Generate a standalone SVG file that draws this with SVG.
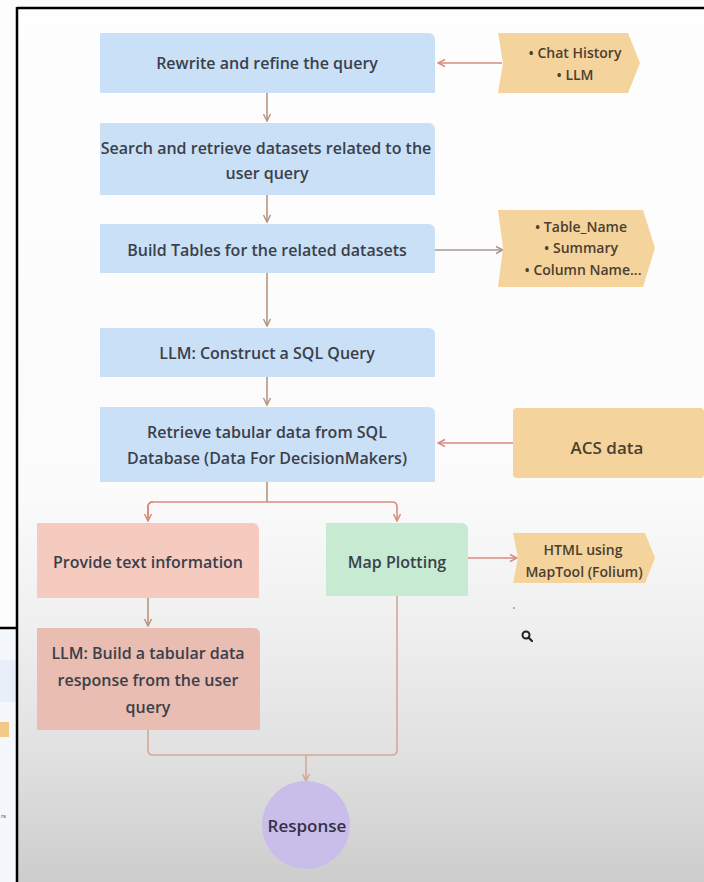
<svg xmlns="http://www.w3.org/2000/svg" width="704" height="882" viewBox="0 0 704 882">
  <defs>
    <linearGradient id="bg" x1="0" y1="0" x2="0" y2="1">
      <stop offset="0" stop-color="#fefefe"/>
      <stop offset="0.55" stop-color="#fbfbfb"/>
      <stop offset="0.7" stop-color="#f0f0f0"/>
      <stop offset="0.85" stop-color="#e1e1e1"/>
      <stop offset="1" stop-color="#cdcdcd"/>
    </linearGradient>
    <marker id="arrow" viewBox="0 0 10 10" refX="9" refY="5" markerWidth="10" markerHeight="10" markerUnits="userSpaceOnUse" orient="auto">
      <polyline points="2,1.5 9,5 2,8.5" fill="none" stroke="context-stroke" stroke-width="1.5"/>
    </marker>
    <style>
      .t { font-family: "Open Sans", "Liberation Sans", sans-serif; font-size: 16px; font-weight: 600; fill: #3b3f4a; text-anchor: middle; }
      .s { font-family: "Open Sans", "Liberation Sans", sans-serif; font-size: 14px; font-weight: 600; fill: #4a3f30; text-anchor: middle; }
      .blue { fill: #c9e0f7; }
      .orange { fill: #f4d39c; }
      .pink { fill: #f5cbc0; }
      .rose { fill: #e9bdb1; }
      .green { fill: #c6ead2; }
      .purple { fill: #c9bde9; }
      .c { fill: none; stroke-width: 1.6; stroke-linejoin: round; }
      .brown { stroke: #b8957f; }
      .red { stroke: #d98a7e; }
      .grey { stroke: #a89690; }
      .tan { stroke: #d3a898; }
      .frame { stroke: #000; stroke-width: 2.5; fill: none; }
    </style>
  </defs>

  <!-- canvas -->
  <rect x="0" y="0" width="704" height="882" fill="#fdfdfd"/>
  <rect x="17" y="8" width="687" height="874" fill="url(#bg)"/>

  <!-- neighbouring panel on the left -->
  <rect x="0" y="629" width="17" height="253" fill="#f4f7fb"/>
  <rect x="0" y="660" width="17" height="42" fill="#e8eff8"/>
  <rect x="0" y="722" width="9" height="15" fill="#f2c987"/>
  <text x="1" y="818" font-family="Liberation Sans, sans-serif" font-size="6" fill="#555">rs</text>
  <line class="frame" x1="0" y1="628" x2="17" y2="628"/>
  <line class="frame" x1="17" y1="8" x2="704" y2="8"/>
  <line class="frame" x1="17" y1="7" x2="17" y2="882"/>

  <!-- connectors -->
  <g id="connectors">
    <line class="c red" x1="502" y1="63" x2="438" y2="63" marker-end="url(#arrow)"/>
    <line class="c brown" x1="267" y1="93" x2="267" y2="121" marker-end="url(#arrow)"/>
    <line class="c brown" x1="267" y1="195" x2="267" y2="222" marker-end="url(#arrow)"/>
    <line class="c grey" x1="435" y1="250" x2="503" y2="250" marker-end="url(#arrow)"/>
    <line class="c brown" x1="267" y1="273" x2="267" y2="326" marker-end="url(#arrow)"/>
    <line class="c brown" x1="267" y1="377" x2="267" y2="405" marker-end="url(#arrow)"/>
    <line class="c red" x1="513" y1="443" x2="438" y2="443" marker-end="url(#arrow)"/>
    <line class="c brown" x1="267" y1="482" x2="267" y2="502"/>
    <path class="c red" d="M148 521 V507 Q148 502 153 502 H392 Q397 502 397 507 V521" marker-end="url(#arrow)"/>
    <path class="c red" d="M153 502 Q148 502 148 507 V521" marker-end="url(#arrow)"/>
    <line class="c red" x1="468" y1="558" x2="517" y2="558" marker-end="url(#arrow)"/>
    <line class="c brown" x1="148" y1="598" x2="148" y2="626" marker-end="url(#arrow)"/>
    <path class="c tan" d="M148 730 V750 Q148 755 153 755 H392 Q397 755 397 750 V596"/>
    <line class="c tan" x1="306" y1="755" x2="306" y2="781" marker-end="url(#arrow)"/>
  </g>

  <!-- nodes -->
  <g id="rewrite">
    <path class="blue" d="M100 33 H428 Q435 33 435 40 V93 H100 Z"/>
    <text class="t" x="267" y="69">Rewrite and refine the query</text>
  </g>

  <g id="chat-inputs">
    <path class="orange" d="M498 33 H628 L640 63 L628 93 H498 L503 63 Z"/>
    <text class="s" x="575" y="58">• Chat History</text>
    <text class="s" x="575" y="80">• LLM</text>
  </g>

  <g id="search">
    <path class="blue" d="M100 123 H428 Q435 123 435 130 V195 H100 Z"/>
    <text class="t" x="266" y="154">Search and retrieve datasets related to the</text>
    <text class="t" x="267" y="179">user query</text>
  </g>

  <g id="build-tables">
    <path class="blue" d="M100 224 H428 Q435 224 435 231 V273 H100 Z"/>
    <text class="t" x="267" y="256">Build Tables for the related datasets</text>
  </g>

  <g id="table-info">
    <path class="orange" d="M498 210 H643 L655 248 L643 287 H498 L503 248 Z"/>
    <text class="s" x="581" y="232">• Table_Name</text>
    <text class="s" x="581" y="253">• Summary</text>
    <text class="s" x="583" y="275">• Column Name...</text>
  </g>

  <g id="construct-sql">
    <path class="blue" d="M100 328 H428 Q435 328 435 335 V377 H100 Z"/>
    <text class="t" x="267" y="359">LLM: Construct a SQL Query</text>
  </g>

  <g id="retrieve">
    <path class="blue" d="M100 407 H428 Q435 407 435 414 V482 H100 Z"/>
    <text class="t" x="267" y="438">Retrieve tabular data from SQL</text>
    <text class="t" x="267" y="464">Database (Data For DecisionMakers)</text>
  </g>

  <g id="acs-data">
    <rect class="orange" x="513" y="408" width="191" height="70" rx="4"/>
    <text class="t" x="607" y="454" style="fill:#4a3f30; font-size:17px">ACS data</text>
  </g>

  <g id="text-info">
    <path class="pink" d="M37 523 H252 Q259 523 259 530 V598 H37 Z"/>
    <text class="t" x="148" y="568">Provide text information</text>
  </g>

  <g id="map-plotting">
    <path class="green" d="M326 523 H461 Q468 523 468 530 V596 H326 Z"/>
    <text class="t" x="397" y="568">Map Plotting</text>
  </g>

  <g id="html-output">
    <path class="orange" d="M513 533 H645 L655 558 L645 583 H513 L518 558 Z"/>
    <text class="s" x="583" y="555">HTML using</text>
    <text class="s" x="584" y="577">MapTool (Folium)</text>
  </g>

  <g id="tabular-response">
    <path class="rose" d="M37 628 H253 Q260 628 260 635 V730 H37 Z"/>
    <text class="t" x="148" y="659">LLM: Build a tabular data</text>
    <text class="t" x="148" y="686">response from the user</text>
    <text class="t" x="148" y="713">query</text>
  </g>

  <g id="response">
    <circle class="purple" cx="306" cy="825" r="44"/>
    <text class="t" x="307" y="832" style="fill:#33304a; font-size:17px">Response</text>
  </g>

  <!-- pointer marks -->
  <circle cx="514" cy="608" r="1" fill="#9a9a9a"/>
  <g id="cursor">
    <circle cx="526" cy="635" r="3.5" fill="none" stroke="#222" stroke-width="2"/>
    <line x1="528.5" y1="637.5" x2="532" y2="641" stroke="#222" stroke-width="2.2" stroke-linecap="round"/>
  </g>
</svg>
